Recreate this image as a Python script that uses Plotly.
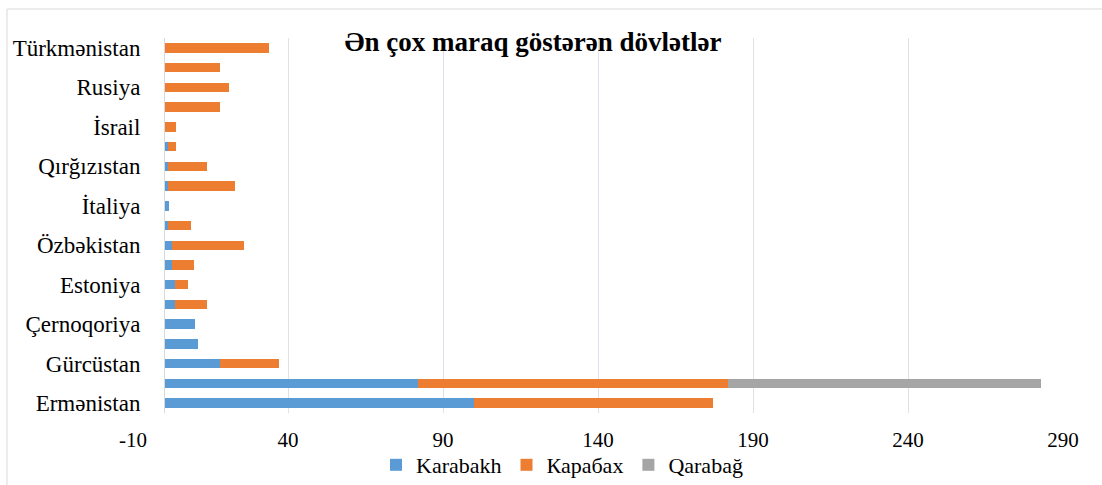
import plotly.graph_objects as go

# Categories bottom -> top; only every second one carries a visible label
positions = list(range(19))
tick_labels = ["Ermənistan", "", "Gürcüstan", "", "Çernoqoriya", "", "Estoniya", "",
               "Özbəkistan", "", "İtaliya", "", "Qırğızıstan", "", "İsrail", "",
               "Rusiya", "", "Türkmənistan"]

karabakh = [100, 82, 18, 11, 10, 3.5, 3.5, 2.7, 2.7, 1.4, 1.7, 1.4, 1.4, 1.4, 0.3, 0.3, 0, 0, 0]
karabax_ru = [77, 100, 19, 0, 0, 10.5, 4.3, 7, 23.2, 7.4, 0, 21.6, 12.6, 2.6, 3.7, 17.7, 21, 18, 34]
qarabag = [0, 101, 0, 0, 0, 0, 0, 0, 0, 0, 0, 0, 0, 0, 0, 0, 0, 0, 0]

series_names = ["Karabakh", "Карабах", "Qarabağ"]
colors = ["#5B9BD5", "#ED7D31", "#A5A5A5"]

x_ticks = [-10, 40, 90, 140, 190, 240, 290]

W, H = 1102, 485
L, R, T, B = 133, 39, 38, 72
plot_w = W - L - R

fig = go.Figure()
for name, vals, col in zip(series_names, [karabakh, karabax_ru, qarabag], colors):
    fig.add_trace(go.Bar(y=positions, x=vals, name=name, orientation="h",
                         marker=dict(color=col, line=dict(width=0))))

font_family = "Liberation Serif"
zero_pos = (0 - x_ticks[0]) / (x_ticks[-1] - x_ticks[0])

fig.update_layout(
    width=W, height=H,
    barmode="stack", bargap=0.52,
    paper_bgcolor="white", plot_bgcolor="white",
    margin=dict(l=L, r=R, t=T, b=B, autoexpand=False),
    font=dict(family=font_family, color="#000000", size=21),
    title=dict(text="<b>Ən çox maraq göstərən dövlətlər</b>", x=533 / W, xref="container",
               xanchor="center", y=1 - 42 / H, yref="container", yanchor="middle",
               font=dict(size=27, family=font_family, color="#000000")),
    xaxis=dict(range=[x_ticks[0], x_ticks[-1]], tickvals=x_ticks, ticktext=[str(v) for v in x_ticks],
               showgrid=True, gridcolor="#DDE2EA", gridwidth=1, zeroline=False,
               showline=False, ticks="", ticklabelstandoff=12,
               tickfont=dict(size=21, family=font_family)),
    yaxis=dict(range=[-0.5, 18.5], tickvals=positions, ticktext=tick_labels,
               anchor="free", position=zero_pos, showline=True, linecolor="#D9D9D9",
               linewidth=1, showgrid=False, zeroline=False, ticks="",
               ticklabelstandoff=19, automargin=False,
               tickfont=dict(size=23, family=font_family)),
    legend=dict(orientation="h", x=(562 - L) / plot_w, xanchor="center",
                y=-(465 - (H - B)) / (H - T - B), yanchor="middle",
                font=dict(size=22, family=font_family), itemwidth=30,
                traceorder="normal", bgcolor="rgba(0,0,0,0)"),
    showlegend=True,
)

# outer chart border (light grey frame)
fig.add_shape(type="rect", xref="paper", yref="paper",
              x0=(7 - L) / plot_w, x1=(W + 20 - L) / plot_w,
              y0=-(H + 20 - (H - B)) / (H - T - B), y1=1 + (T - 9) / (H - T - B),
              line=dict(color="#D9D9D9", width=1), fillcolor="rgba(0,0,0,0)", layer="below")

fig.write_html("out.html", config={"displayModeBar": False},
               post_script="document.body.style.margin='0';")
